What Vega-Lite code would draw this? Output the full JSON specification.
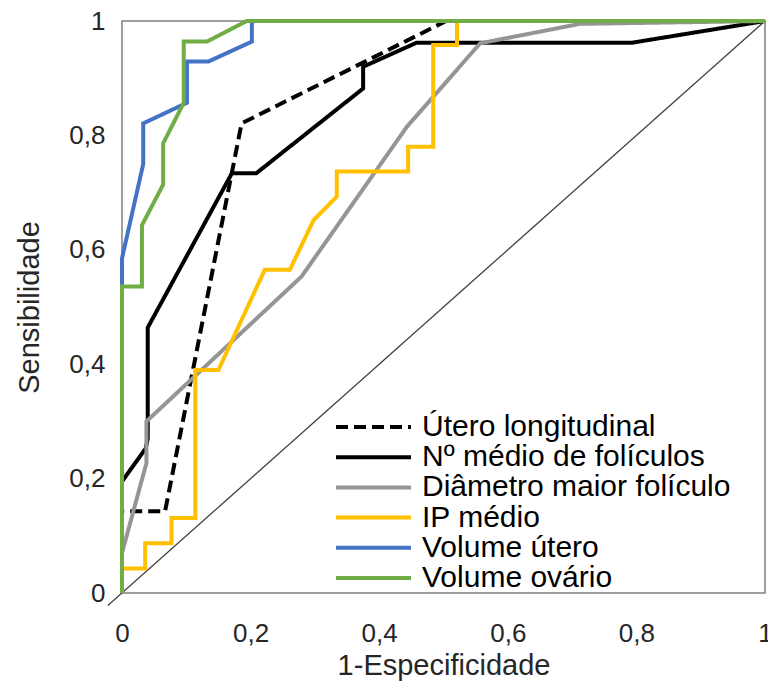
{
  "$schema": "https://vega.github.io/schema/vega-lite/v6.json",
  "width": 643,
  "height": 572,
  "autosize": {"type": "none"},
  "padding": {"left": 122, "top": 21, "right": 3, "bottom": 95},
  "background": "white",
  "config": {
    "font": "Liberation Sans",
    "view": {"stroke": "#7f7f7f", "strokeWidth": 1.5},
    "axis": {"grid": false, "ticks": false, "domain": false, "labelFlush": false, "labelOverlap": false, "labelColor": "#262626", "titleColor": "#262626", "labelFontSize": 26, "titleFontSize": 29, "titleFontWeight": "normal"}
  },
  "datasets": {
    "roc": [
      {"series": "Útero longitudinal", "x": 0, "y": 0},
      {"series": "Útero longitudinal", "x": 0, "y": 0.143},
      {"series": "Útero longitudinal", "x": 0.067, "y": 0.143},
      {"series": "Útero longitudinal", "x": 0.186, "y": 0.821},
      {"series": "Útero longitudinal", "x": 0.504, "y": 1},
      {"series": "Útero longitudinal", "x": 1, "y": 1},
      {"series": "Nº médio de folículos", "x": 0, "y": 0},
      {"series": "Nº médio de folículos", "x": 0, "y": 0.195},
      {"series": "Nº médio de folículos", "x": 0.037, "y": 0.253},
      {"series": "Nº médio de folículos", "x": 0.04, "y": 0.27},
      {"series": "Nº médio de folículos", "x": 0.04, "y": 0.464},
      {"series": "Nº médio de folículos", "x": 0.171, "y": 0.734},
      {"series": "Nº médio de folículos", "x": 0.209, "y": 0.734},
      {"series": "Nº médio de folículos", "x": 0.375, "y": 0.882},
      {"series": "Nº médio de folículos", "x": 0.375, "y": 0.92},
      {"series": "Nº médio de folículos", "x": 0.458, "y": 0.962},
      {"series": "Nº médio de folículos", "x": 0.793, "y": 0.962},
      {"series": "Nº médio de folículos", "x": 1, "y": 1},
      {"series": "Diâmetro maior folículo", "x": 0, "y": 0},
      {"series": "Diâmetro maior folículo", "x": 0, "y": 0.07},
      {"series": "Diâmetro maior folículo", "x": 0.038, "y": 0.227},
      {"series": "Diâmetro maior folículo", "x": 0.038, "y": 0.3},
      {"series": "Diâmetro maior folículo", "x": 0.279, "y": 0.553},
      {"series": "Diâmetro maior folículo", "x": 0.443, "y": 0.815},
      {"series": "Diâmetro maior folículo", "x": 0.557, "y": 0.961},
      {"series": "Diâmetro maior folículo", "x": 0.712, "y": 0.995},
      {"series": "Diâmetro maior folículo", "x": 1, "y": 1},
      {"series": "IP médio", "x": 0, "y": 0},
      {"series": "IP médio", "x": 0, "y": 0.043},
      {"series": "IP médio", "x": 0.036, "y": 0.043},
      {"series": "IP médio", "x": 0.036, "y": 0.087},
      {"series": "IP médio", "x": 0.077, "y": 0.087},
      {"series": "IP médio", "x": 0.077, "y": 0.131},
      {"series": "IP médio", "x": 0.114, "y": 0.131},
      {"series": "IP médio", "x": 0.114, "y": 0.39},
      {"series": "IP médio", "x": 0.15, "y": 0.39},
      {"series": "IP médio", "x": 0.222, "y": 0.565},
      {"series": "IP médio", "x": 0.261, "y": 0.565},
      {"series": "IP médio", "x": 0.298, "y": 0.652},
      {"series": "IP médio", "x": 0.334, "y": 0.693},
      {"series": "IP médio", "x": 0.334, "y": 0.737},
      {"series": "IP médio", "x": 0.445, "y": 0.737},
      {"series": "IP médio", "x": 0.445, "y": 0.78},
      {"series": "IP médio", "x": 0.484, "y": 0.78},
      {"series": "IP médio", "x": 0.484, "y": 0.958},
      {"series": "IP médio", "x": 0.521, "y": 0.958},
      {"series": "IP médio", "x": 0.521, "y": 1},
      {"series": "IP médio", "x": 1, "y": 1},
      {"series": "Volume útero", "x": 0, "y": 0},
      {"series": "Volume útero", "x": 0, "y": 0.585},
      {"series": "Volume útero", "x": 0.033, "y": 0.75},
      {"series": "Volume útero", "x": 0.033, "y": 0.821},
      {"series": "Volume útero", "x": 0.101, "y": 0.857},
      {"series": "Volume útero", "x": 0.101, "y": 0.929},
      {"series": "Volume útero", "x": 0.134, "y": 0.929},
      {"series": "Volume útero", "x": 0.202, "y": 0.964},
      {"series": "Volume útero", "x": 0.202, "y": 1},
      {"series": "Volume útero", "x": 1, "y": 1},
      {"series": "Volume ovário", "x": 0, "y": 0},
      {"series": "Volume ovário", "x": 0, "y": 0.536},
      {"series": "Volume ovário", "x": 0.031, "y": 0.536},
      {"series": "Volume ovário", "x": 0.031, "y": 0.643},
      {"series": "Volume ovário", "x": 0.064, "y": 0.714},
      {"series": "Volume ovário", "x": 0.064, "y": 0.786},
      {"series": "Volume ovário", "x": 0.096, "y": 0.857},
      {"series": "Volume ovário", "x": 0.096, "y": 0.964},
      {"series": "Volume ovário", "x": 0.132, "y": 0.964},
      {"series": "Volume ovário", "x": 0.194, "y": 1},
      {"series": "Volume ovário", "x": 1, "y": 1}
    ],
    "diag": [
      {"x": -0.022, "y": -0.022},
      {"x": 1, "y": 1}
    ]
  },
  "layer": [
    {
      "data": {"name": "diag"},
      "mark": {"type": "line", "color": "#404040", "strokeWidth": 1.3, "clip": false},
      "encoding": {
        "x": {"field": "x", "type": "quantitative", "scale": {"domain": [0, 1], "nice": false, "zero": false},
              "axis": {"values": [0, 0.2, 0.4, 0.6, 0.8, 1], "labelExpr": "replace(format(datum.value, '~g'), '.', ',')", "labelPadding": 27, "title": "1-Especificidade", "titlePadding": 5}},
        "y": {"field": "y", "type": "quantitative", "scale": {"domain": [0, 1], "nice": false, "zero": false},
              "axis": {"values": [0, 0.2, 0.4, 0.6, 0.8, 1], "labelExpr": "replace(format(datum.value, '~g'), '.', ',')", "labelPadding": 17, "title": "Sensibilidade", "titlePadding": 24}}
      }
    },
    {
      "data": {"name": "roc"},
      "mark": {"type": "line", "clip": false, "strokeCap": "butt", "strokeJoin": "miter"},
      "encoding": {
        "x": {"field": "x", "type": "quantitative"},
        "y": {"field": "y", "type": "quantitative"},
        "order": [{"field": "x", "type": "quantitative"}, {"field": "y", "type": "quantitative"}],
        "color": {
          "field": "series", "type": "nominal",
          "scale": {
            "domain": ["Útero longitudinal", "Nº médio de folículos", "Diâmetro maior folículo", "IP médio", "Volume útero", "Volume ovário"],
            "range": ["#000000", "#000000", "#959595", "#FFC000", "#4472C4", "#70AD47"]
          },
          "legend": {
            "title": null, "orient": "none", "legendX": 212, "legendY": 391, "padding": 0,
            "symbolType": "stroke", "symbolSize": 5625, "clipHeight": 30, "rowPadding": 0.2,
            "labelFontSize": 30, "labelColor": "#000000", "labelOffset": 9, "labelLimit": 500
          }
        },
        "strokeDash": {
          "field": "series", "type": "nominal",
          "scale": {
            "domain": ["Útero longitudinal", "Nº médio de folículos", "Diâmetro maior folículo", "IP médio", "Volume útero", "Volume ovário"],
            "range": [[12, 6], [1, 0], [1, 0], [1, 0], [1, 0], [1, 0]]
          },
          "legend": null
        },
        "strokeWidth": {
          "field": "series", "type": "nominal",
          "scale": {
            "domain": ["Útero longitudinal", "Nº médio de folículos", "Diâmetro maior folículo", "IP médio", "Volume útero", "Volume ovário"],
            "range": [4, 4, 4, 2.6, 2.6, 2.6]
          },
          "legend": null
        }
      }
    }
  ]
}
